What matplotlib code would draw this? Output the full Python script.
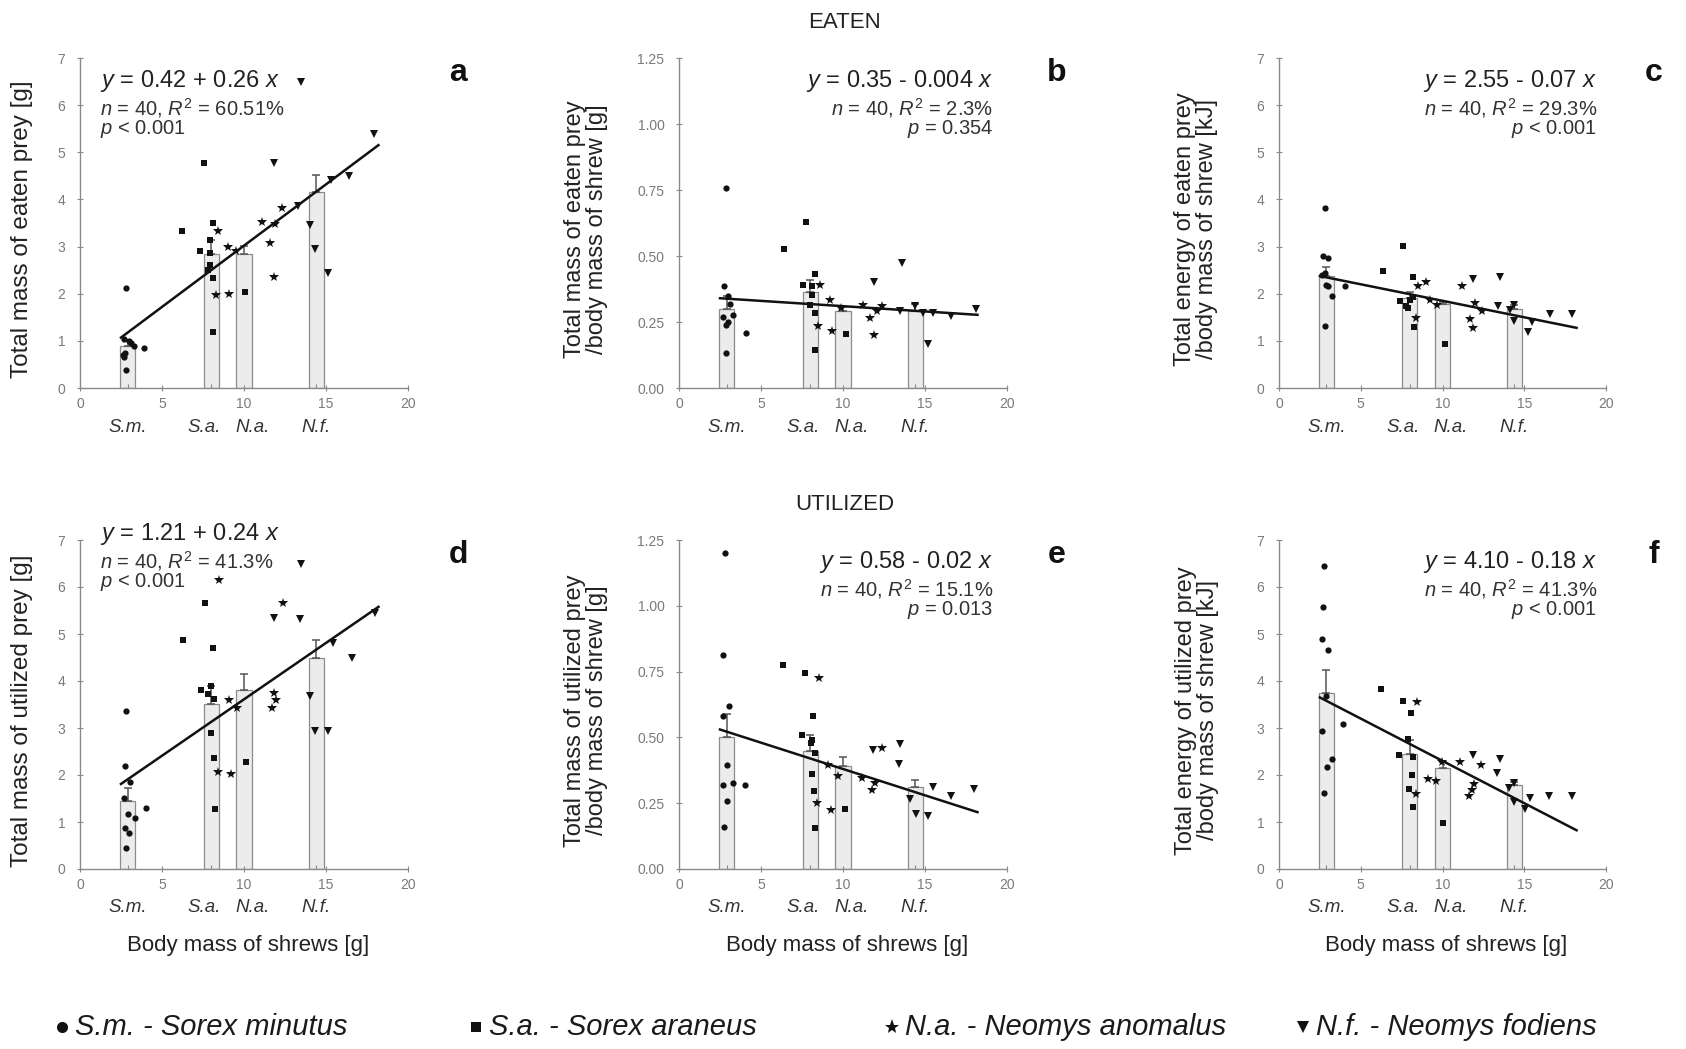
import matplotlib
matplotlib.use('Agg')
import matplotlib.pyplot as plt
from matplotlib.lines import Line2D
from matplotlib.ticker import FormatStrFormatter, MultipleLocator
import matplotlib.transforms as mtransforms

plt.rcParams['font.family'] = ['Liberation Sans', 'DejaVu Sans']
plt.rcParams['mathtext.fontset'] = 'custom'
plt.rcParams['mathtext.rm'] = 'Liberation Sans'
plt.rcParams['mathtext.it'] = 'Liberation Sans:italic'

W, H = 1686, 1049

species = ['S.m.', 'S.a.', 'N.a.', 'N.f.']
latin = ['Sorex minutus', 'Sorex araneus', 'Neomys anomalus', 'Neomys fodiens']
bar_x = [2.9, 8.0, 10.0, 14.4]
fit_x = [2.5, 18.2]

# (body mass [g], value) per species and panel
a_sm = [(2.6, 0.70), (2.7, 0.65), (2.75, 0.75), (2.8, 0.38), (2.8, 2.12), (2.7, 1.05),
        (3.0, 1.0), (3.1, 0.95), (3.3, 0.9), (3.9, 0.85)]
a_sa = [(6.2, 3.32), (7.55, 4.78), (7.3, 2.91), (7.9, 3.14), (8.1, 3.5), (7.95, 2.86),
        (7.9, 2.6), (7.8, 2.5), (8.1, 2.34), (8.1, 1.19), (10.05, 2.04)]
a_na = [(8.4, 3.32), (8.3, 1.97), (9.0, 3.0), (9.1, 1.99), (9.5, 2.9), (11.1, 3.53),
        (11.6, 3.07), (11.8, 2.35), (12.3, 3.81), (11.9, 3.47)]
a_nf = [(13.5, 6.49), (11.8, 4.78), (13.3, 3.87), (14.0, 3.46), (14.3, 2.95), (15.1, 2.45),
        (15.3, 4.41), (16.4, 4.5), (17.9, 5.39)]
a_bar = [0.9, 2.85, 2.85, 4.15]
a_err = [0.12, 0.28, 0.17, 0.37]
a_fit = (0.42, 0.26)

b_sm = [(2.85, 0.757), (2.77, 0.386), (3.1, 0.32), (2.7, 0.27), (2.85, 0.24), (3.0, 0.25),
        (3.3, 0.275), (2.85, 0.133), (4.1, 0.21), (3.0, 0.35)]
b_sa = [(6.4, 0.525), (7.73, 0.629), (7.55, 0.392), (8.3, 0.43), (8.14, 0.386), (8.14, 0.354),
        (8.0, 0.316), (8.3, 0.285), (8.3, 0.145), (10.17, 0.205)]
b_na = [(8.6, 0.39), (8.45, 0.234), (9.2, 0.335), (9.3, 0.215), (9.9, 0.304), (11.2, 0.316),
        (11.65, 0.266), (11.9, 0.2), (12.05, 0.29), (12.4, 0.31)]
b_nf = [(13.6, 0.474), (11.9, 0.40), (13.5, 0.29), (14.4, 0.31), (15.2, 0.165), (15.5, 0.285),
        (16.6, 0.272), (18.1, 0.30), (14.9, 0.285)]
b_bar = [0.30, 0.365, 0.29, 0.29]
b_err = [0.05, 0.045, 0.015, 0.03]
b_fit = (0.35, -0.004)

c_sm = [(2.82, 3.82), (2.7, 2.81), (3.0, 2.76), (2.6, 2.4), (2.9, 2.19), (2.97, 2.16),
        (3.27, 1.96), (2.82, 1.31), (4.04, 2.16), (2.82, 2.44)]
c_sa = [(6.35, 2.49), (7.6, 3.02), (7.4, 1.85), (7.75, 1.75), (7.9, 1.7), (8.2, 2.35),
        (8.2, 1.94), (8.27, 1.29), (10.16, 0.93), (8.0, 1.87)]
c_na = [(8.4, 1.49), (8.5, 2.16), (9.0, 2.25), (9.25, 1.87), (9.65, 1.77), (11.2, 2.17),
        (11.7, 1.46), (11.85, 1.27), (12.4, 1.63), (12.0, 1.8)]
c_nf = [(11.85, 2.31), (13.5, 2.35), (13.4, 1.75), (14.1, 1.65), (14.4, 1.43), (15.2, 1.18),
        (15.5, 1.41), (16.55, 1.57), (17.9, 1.56), (14.35, 1.77)]
c_bar = [2.38, 1.9, 1.78, 1.68]
c_err = [0.18, 0.13, 0.05, 0.08]
c_fit = (2.55, -0.07)

d_sm = [(2.83, 3.37), (2.73, 2.19), (3.03, 1.86), (2.67, 1.52), (2.93, 1.16), (3.33, 1.09),
        (2.73, 0.87), (2.97, 0.77), (2.83, 0.44), (4.0, 1.29)]
d_sa = [(6.3, 4.87), (7.6, 5.67), (8.08, 4.71), (7.37, 3.81), (7.8, 3.72), (8.2, 3.61),
        (8.0, 2.9), (8.2, 2.37), (8.25, 1.28), (10.1, 2.28), (8.0, 3.9)]
d_na = [(8.5, 6.15), (8.4, 2.07), (9.2, 2.02), (9.1, 3.6), (9.6, 3.42), (12.4, 5.67),
        (11.85, 3.75), (11.95, 3.6), (11.7, 3.42)]
d_nf = [(13.5, 6.48), (11.85, 5.33), (13.4, 5.32), (14.0, 3.68), (14.3, 2.94), (15.15, 2.94),
        (15.45, 4.8), (16.6, 4.48), (18.0, 5.45)]
d_bar = [1.45, 3.52, 3.8, 4.5]
d_err = [0.27, 0.38, 0.35, 0.37]
d_fit = (1.21, 0.24)

e_sm = [(2.8, 1.2), (2.7, 0.813), (2.7, 0.58), (3.05, 0.62), (2.9, 0.394), (2.66, 0.319),
        (3.27, 0.327), (2.95, 0.257), (2.76, 0.161), (4.02, 0.32)]
e_sa = [(6.36, 0.775), (7.68, 0.746), (8.15, 0.58), (7.48, 0.51), (8.03, 0.479), (8.13, 0.49),
        (8.3, 0.44), (8.1, 0.362), (8.23, 0.295), (8.3, 0.155), (10.1, 0.227)]
e_na = [(8.55, 0.727), (8.43, 0.25), (9.1, 0.396), (9.25, 0.225), (9.7, 0.352), (11.14, 0.346),
        (11.75, 0.3), (11.95, 0.326), (12.36, 0.46)]
e_nf = [(11.85, 0.451), (13.5, 0.476), (13.4, 0.4), (14.1, 0.265), (14.45, 0.208), (15.2, 0.2),
        (15.5, 0.31), (16.6, 0.276), (18.0, 0.304)]
e_bar = [0.5, 0.45, 0.39, 0.31]
e_err = [0.09, 0.06, 0.035, 0.03]
e_fit = (0.58, -0.02)

f_sm = [(2.78, 6.45), (2.67, 5.58), (2.6, 4.9), (2.98, 4.65), (2.86, 3.68), (2.65, 2.94),
        (3.22, 2.34), (2.92, 2.18), (2.76, 1.61), (3.94, 3.09)]
f_sa = [(6.22, 3.82), (7.57, 3.58), (8.06, 3.31), (7.37, 2.43), (7.86, 2.77), (8.22, 2.38),
        (8.16, 1.99), (7.98, 1.71), (8.22, 1.31), (10.06, 0.97)]
f_na = [(8.43, 3.56), (8.37, 1.6), (9.14, 1.91), (9.6, 1.88), (9.95, 2.27), (11.08, 2.27),
        (11.63, 1.56), (11.9, 1.81), (12.37, 2.22), (11.8, 1.69)]
f_nf = [(11.84, 2.42), (13.53, 2.34), (13.33, 2.04), (14.04, 1.72), (14.35, 1.42), (15.06, 1.28),
        (15.37, 1.51), (16.5, 1.56), (17.9, 1.56), (14.35, 1.83)]
f_bar = [3.75, 2.45, 2.15, 1.78]
f_err = [0.48, 0.3, 0.13, 0.08]
f_fit = (4.10, -0.18)

# equation texts
a_txt = [r'$y$ = 0.42 + 0.26 $x$', r'$n$ = 40, $R^2$ = 60.51%', r'$p$ < 0.001']
b_txt = [r'$y$ = 0.35 - 0.004 $x$', r'$n$ = 40, $R^2$ = 2.3%', r'$p$ = 0.354']
c_txt = [r'$y$ = 2.55 - 0.07 $x$', r'$n$ = 40, $R^2$ = 29.3%', r'$p$ < 0.001']
d_txt = [r'$y$ = 1.21 + 0.24 $x$', r'$n$ = 40, $R^2$ = 41.3%', r'$p$ < 0.001']
e_txt = [r'$y$ = 0.58 - 0.02 $x$', r'$n$ = 40, $R^2$ = 15.1%', r'$p$ = 0.013']
f_txt = [r'$y$ = 4.10 - 0.18 $x$', r'$n$ = 40, $R^2$ = 41.3%', r'$p$ < 0.001']

ylabels = {
    'a': 'Total mass of eaten prey [g]',
    'b': 'Total mass of eaten prey\n/body mass of shrew [g]',
    'c': 'Total energy of eaten prey\n/body mass of shrew [kJ]',
    'd': 'Total mass of utilized prey [g]',
    'e': 'Total mass of utilized prey\n/body mass of shrew [g]',
    'f': 'Total energy of utilized prey\n/body mass of shrew [kJ]',
}

markers = ['o', 's', '*', 'v']
msizes = [4.5, 4.3, 7, 5.5]
cat_x = [2.9, 7.6, 10.5, 14.4]
GREY = '#8a8a8a'


def fx(px):
    return px / W


def fy(py):
    return 1 - py / H


def panel(box, pts, bars, errs, fit, ymax, step, fmt):
    l, t, r, b = box
    ax = fig.add_axes([fx(l), fy(b), (r - l) / W, (b - t) / H])
    ax.bar(bar_x, bars, width=0.92, color='#ececec', edgecolor='#8c8c8c', lw=0.9, zorder=1)
    ax.errorbar(bar_x, bars, yerr=[[0] * 4, errs], fmt='none', ecolor='#555555',
                elinewidth=1.1, capsize=3, capthick=1.1, zorder=2)
    for sp, m, ms in zip(pts, markers, msizes):
        xs = [p[0] for p in sp]
        ys = [p[1] for p in sp]
        ax.plot(xs, ys, m, color='#111111', ms=ms, mew=0, zorder=3)
    ax.plot(fit_x, [fit[0] + fit[1] * x for x in fit_x], color='#111111', lw=1.8, zorder=4)
    ax.set_xlim(0, 20)
    ax.set_ylim(0, ymax)
    ax.xaxis.set_major_locator(MultipleLocator(5))
    ax.yaxis.set_major_locator(MultipleLocator(step))
    ax.yaxis.set_major_formatter(FormatStrFormatter(fmt))
    ax.set_xticks(bar_x, minor=True)
    for s in ['top', 'right']:
        ax.spines[s].set_visible(False)
    for s in ['left', 'bottom']:
        ax.spines[s].set_color(GREY)
        ax.spines[s].set_linewidth(1.0)
    ax.tick_params(which='major', direction='inout', length=5, width=0.8, color=GREY,
                   labelsize=10, labelcolor='#7a7a7a', pad=4)
    ax.tick_params(axis='y', which='major', pad=8)
    ax.tick_params(which='minor', direction='in', length=3, width=0.8, color=GREY)
    trans = mtransforms.blended_transform_factory(ax.transData, fig.transFigure)
    for name, cx in zip(species, cat_x):
        ax.text(cx, fy(b + 39), name, transform=trans, ha='center', va='center',
                fontsize=13.5, style='italic', color='#333333')
    ax.patch.set_alpha(0)
    return ax


fig = plt.figure(figsize=(W / 100, H / 100), dpi=100)

top, bot = (58, 388), (540, 869)
cols = [(80, 408), (679, 1007), (1279, 1606)]
setup = [
    ('a', cols[0], top, [a_sm, a_sa, a_na, a_nf], a_bar, a_err, a_fit, 7, 1, '%d', a_txt),
    ('b', cols[1], top, [b_sm, b_sa, b_na, b_nf], b_bar, b_err, b_fit, 1.25, 0.25, '%.2f', b_txt),
    ('c', cols[2], top, [c_sm, c_sa, c_na, c_nf], c_bar, c_err, c_fit, 7, 1, '%d', c_txt),
    ('d', cols[0], bot, [d_sm, d_sa, d_na, d_nf], d_bar, d_err, d_fit, 7, 1, '%d', d_txt),
    ('e', cols[1], bot, [e_sm, e_sa, e_na, e_nf], e_bar, e_err, e_fit, 1.25, 0.25, '%.2f', e_txt),
    ('f', cols[2], bot, [f_sm, f_sa, f_na, f_nf], f_bar, f_err, f_fit, 7, 1, '%d', f_txt),
]
ylab_x = {'a': 22, 'b': 586, 'c': 1196, 'd': 22, 'e': 586, 'f': 1197}

for key, (l, r), (t, b), pts, bars, errs, fit, ymax, step, fmt, txt in setup:
    ax = panel((l, t, r, b), pts, bars, errs, fit, ymax, step, fmt)
    two = '\n' in ylabels[key]
    fig.text(fx(ylab_x[key]), fy((t + b) / 2 + 6), ylabels[key], rotation=90, ha='center',
             va='center', fontsize=17 if two else 17.5, color='#222222', linespacing=0.95)
    fig.text(fx(r + 50 if key not in ('c', 'f') else r + 48), fy(t + 15), key,
             fontsize=23, fontweight='bold', ha='center', va='center', color='#111111')
    if key in ('a', 'd'):
        tx, ha = l + 20, 'left'
    else:
        tx, ha = (993 if key in ('b', 'e') else 1597), 'right'
    ty = t + 23
    if key in ('e', 'f'):
        ty = t + 22
    if key == 'd':
        ty = t - 6
    fig.text(fx(tx), fy(ty), txt[0], fontsize=17, ha=ha, va='center', color='#222222')
    fig.text(fx(tx), fy(ty + 27), txt[1], fontsize=14.5, ha=ha, va='center', color='#333333')
    fig.text(fx(tx), fy(ty + 48), txt[2], fontsize=14.5, ha=ha, va='center', color='#333333')
    if key in ('d', 'e', 'f'):
        fig.text(fx((l + r) / 2 + 4), fy(946), 'Body mass of shrews [g]', fontsize=16,
                 ha='center', va='center', color='#222222')

fig.text(fx(845), fy(22), 'EATEN', fontsize=16, ha='center', va='center', color='#222222')
fig.text(fx(845), fy(505), 'UTILIZED', fontsize=16, ha='center', va='center', color='#222222')

# legend along the bottom
leg_mark_x = [62, 476, 892, 1303]
leg_ms = [8, 7.5, 11, 9]
for i in range(4):
    fig.add_artist(Line2D([fx(leg_mark_x[i])], [fy(1027)], marker=markers[i], ms=leg_ms[i],
                          color='#111111', mew=0, transform=fig.transFigure))
    fig.text(fx(leg_mark_x[i] + 13), fy(1027), species[i] + ' - ' + latin[i],
             style='italic', fontsize=21, ha='left', va='center', color='#1a1a1a')

fig.savefig('out.png', dpi=100)
